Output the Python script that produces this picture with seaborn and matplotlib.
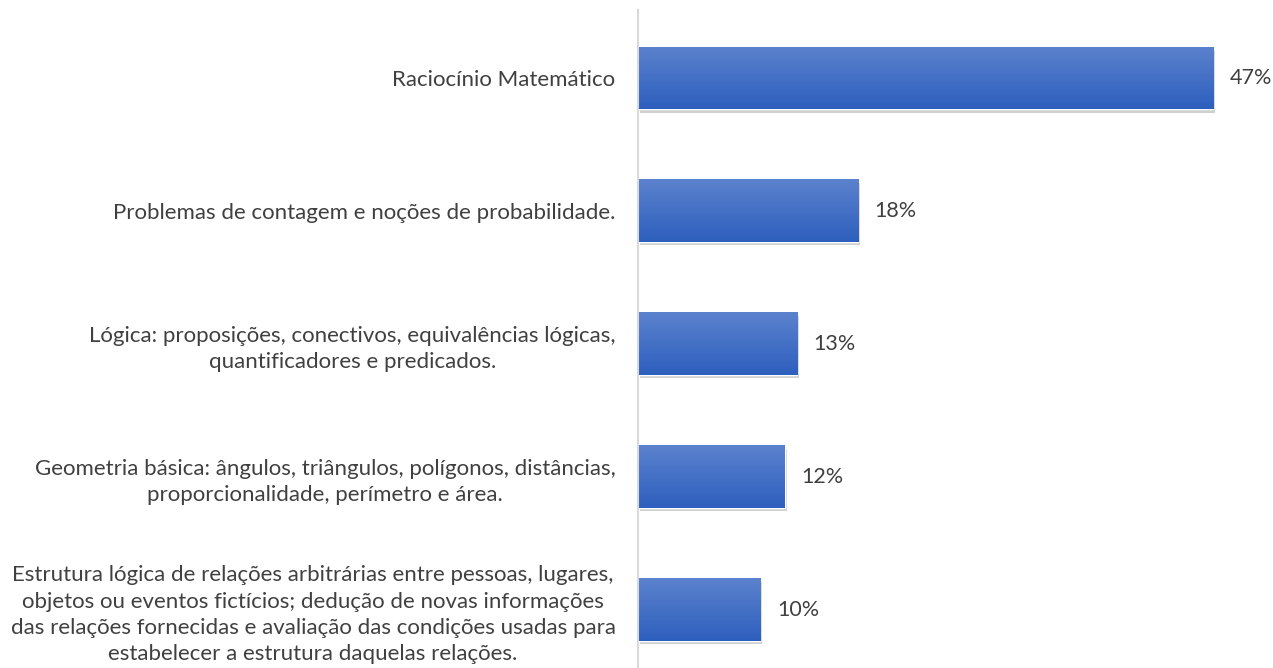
import numpy as np
import pandas as pd
import matplotlib
matplotlib.use("Agg")
import matplotlib.pyplot as plt
import matplotlib.patheffects as pe
from matplotlib.colors import LinearSegmentedColormap
import seaborn as sns

# =====================
# DATA
# =====================
categories = [
    "Raciocínio Matemático",
    "Problemas de contagem e noções de probabilidade.",
    "Lógica: proposições, conectivos, equivalências lógicas,\nquantificadores e predicados.",
    "Geometria básica: ângulos, triângulos, polígonos, distâncias,\nproporcionalidade, perímetro e área.",
    "Estrutura lógica de relações arbitrárias entre pessoas, lugares,\n"
    "objetos ou eventos fictícios; dedução de novas informações\n"
    "das relações fornecidas e avaliação das condições usadas para\n"
    "estabelecer a estrutura daquelas relações.",
]
percentages = [47, 18, 13, 12, 10]

df = pd.DataFrame({"Categoria": categories, "Percentual": percentages})

# =====================
# STYLE
# =====================
sns.set_theme(style="white")
plt.rcParams["font.family"] = ["Lato", "DejaVu Sans"]
text_color = "#404040"

fig = plt.figure(figsize=(12.73, 6.68), dpi=100)
ax = fig.add_axes([0.501, 0.0, 0.499, 0.985])

sns.barplot(data=df, x="Percentual", y="Categoria", color="#3a66c4",
            width=0.47, ax=ax, saturation=1)

# gradient fill + soft shadow on each bar (lighter on top)
grad = LinearSegmentedColormap.from_list("g", ["#5b82cd", "#2e5fbe"])
gradient = np.linspace(0, 1, 256).reshape(-1, 1)
for patch in ax.patches:
    patch.set_path_effects([pe.SimplePatchShadow(offset=(1.5, -2.5), shadow_rgbFace="#000000", alpha=0.18),
                            pe.Normal()])
    x0, y0 = patch.get_x(), patch.get_y()
    w, h = patch.get_width(), patch.get_height()
    # y axis is inverted: y0 is the visual top
    im = ax.imshow(gradient, cmap=grad, aspect="auto", interpolation="bilinear",
                   origin="upper", extent=(x0, x0 + w, y0 + h, y0),
                   zorder=patch.get_zorder() + 0.1)
    im.set_clip_path(patch)

ax.set_xlim(0, 51.9)
ax.set_ylim(4.44, -0.51)

for container in ax.containers:
    ax.bar_label(container, labels=[f"{v}%" for v in percentages], padding=12,
                 fontsize=15.5, color=text_color)

ax.set_xlabel("")
ax.set_ylabel("")
ax.set_xticks([])
ax.tick_params(axis="y", length=0, pad=16, labelsize=16, labelcolor=text_color)
for lbl in ax.get_yticklabels():
    lbl.set_multialignment("center")
    lbl.set_linespacing(1.4)

for side in ["top", "right", "bottom"]:
    ax.spines[side].set_visible(False)
ax.spines["left"].set_color("#d9d9d9")
ax.spines["left"].set_linewidth(1.5)

fig.savefig("out.png", dpi=100, facecolor="white")
